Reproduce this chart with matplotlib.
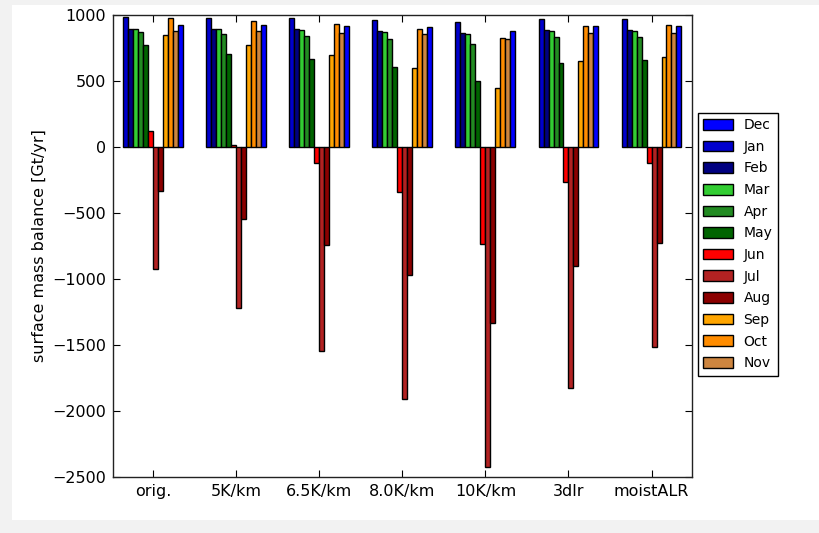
import matplotlib
matplotlib.use("Agg")
import matplotlib.pyplot as plt
import numpy as np
from matplotlib.patches import Rectangle

experiments = ["orig.", "5K/km", "6.5K/km", "8.0K/km", "10K/km", "3dlr", "moistALR"]
months = ["Jan", "Feb", "Mar", "Apr", "May", "Jun", "Jul", "Aug", "Sep", "Oct", "Nov", "Dec"]
colors = ["mediumblue", "navy", "limegreen", "forestgreen", "darkgreen", "red",
          "firebrick", "darkred", "orange", "darkorange", "peru", "blue"]

jan = [983, 978, 976, 963, 948, 970, 970]
feb = [897, 897, 892, 882, 866, 887, 887]
mar = [892, 892, 884, 874, 856, 882, 882]
apr = [872, 856, 841, 816, 783, 834, 831]
may = [770, 707, 666, 606, 502, 638, 657]
jun = [125, 18, -121, -342, -734, -268, -121]
jul = [-924, -1223, -1542, -1907, -2426, -1824, -1512]
aug = [-334, -544, -739, -970, -1330, -904, -725]
sep = [846, 770, 697, 598, 444, 649, 684]
oct_ = [978, 957, 930, 894, 828, 920, 922]
nov = [882, 879, 866, 854, 818, 862, 862]
dec = [927, 927, 920, 907, 882, 915, 917]
series = [jan, feb, mar, apr, may, jun, jul, aug, sep, oct_, nov, dec]

legend_order = ["Dec", "Jan", "Feb", "Mar", "Apr", "May", "Jun", "Jul", "Aug", "Sep", "Oct", "Nov"]

plt.rcParams['font.family'] = ['DejaVu Sans']
fig = plt.figure(figsize=(8.19, 5.33), dpi=100)
fig.patch.set_facecolor('#f2f2f2')
fig.patches.append(Rectangle((12/819, 13/533), 1 - 12/819, 1 - 18/533,
                             transform=fig.transFigure, facecolor='white',
                             edgecolor='none', zorder=-10))
ax = fig.add_axes([113/819, 56/533, 579/819, 462/533])

ind = np.arange(len(experiments))
width = 0.06
handles = {}
for i, (m, vals, c) in enumerate(zip(months, series, colors)):
    x = ind - 6 * width + i * width
    b = ax.bar(x, vals, width, align='edge', color=c, edgecolor='black', linewidth=1.0, label=m)
    handles[m] = b

ax.set_xlim(-0.483, 6.487)
ax.set_ylim(-2500, 1000)
ax.set_xticks(ind)
ax.set_xticklabels(experiments, fontsize=11.5)
ax.set_yticks(np.arange(-2500, 1001, 500))
ax.tick_params(axis='y', labelsize=11.5)
ax.tick_params(direction='in', top=True, right=True, length=5, width=0.8, pad=5)
for s in ax.spines.values():
    s.set_linewidth(1.0)
    s.set_color('#222222')
ax.set_ylabel("surface mass balance [Gt/yr]", fontsize=11.5)

leg = ax.legend([handles[m] for m in legend_order], legend_order,
                loc='center left', bbox_to_anchor=(1.01, 0.504), borderaxespad=0,
                fontsize=10, fancybox=False, edgecolor='black', framealpha=1,
                handlelength=2.1, handleheight=0.8, labelspacing=0.55)
leg.get_frame().set_linewidth(1.0)

fig.savefig("out.png", dpi=100, facecolor=fig.get_facecolor())
